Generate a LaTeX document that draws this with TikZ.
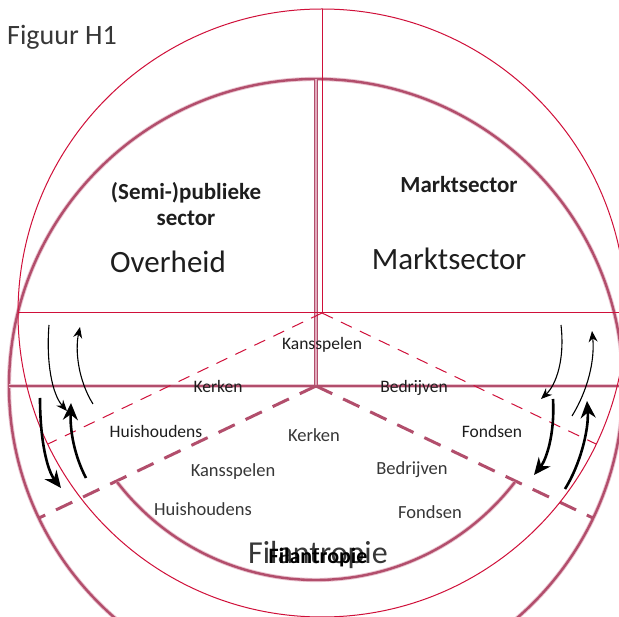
\documentclass[tikz,border=0pt]{standalone}
\usepackage{fontspec}
\setmainfont{Carlito}
\usetikzlibrary{arrows.meta}
\definecolor{thinred}{RGB}{208,16,58}
\definecolor{thickred}{RGB}{178,78,108}
\definecolor{thickglow}{RGB}{234,196,208}
\definecolor{txtdark}{RGB}{30,30,30}
\definecolor{txtgray}{RGB}{55,55,55}
\begin{document}
\begin{tikzpicture}[x=1pt,y=-1pt,
  thinline/.style={draw=thinred, line width=1pt},
  thindash/.style={draw=thinred, line width=1pt, dash pattern=on 12pt off 9pt},
  thickline/.style={draw=thickred, line width=2.4pt, preaction={draw=thickglow, line width=4.2pt}},
  thickdash/.style={draw=thickred, line width=3pt, dash pattern=on 18pt off 12pt},
  thinarrow/.style={draw=black, line width=1.1pt, -{Stealth[length=11pt,width=9pt]}},
  thickarrow/.style={draw=black, line width=2.6pt, -{Stealth[length=17pt,width=15pt]}},
  lbl/.style={inner sep=0pt, anchor=base, text=txtdark, font=\fontsize{17.5}{20}\selectfont},
  lblk/.style={inner sep=0pt, anchor=base, text=txtgray, font=\fontsize{18.5}{21}\selectfont},
  bigl/.style={inner sep=0pt, anchor=base, text=txtdark, font=\fontsize{31}{36}\selectfont},
  boldl/.style={inner sep=0pt, anchor=base, text=txtdark, font=\fontsize{23}{26}\selectfont\bfseries}
]
\useasboundingbox (0,0) rectangle (619,617);
\fill[white] (0,0) rectangle (619,617);
\clip (0,0) rectangle (619,617);

% thick (background) diagram
\coordinate (kc) at (316,386);
\coordinate (kl) at (9,386);
\coordinate (kr) at (623,386);
\coordinate (kt) at (316,79);
\coordinate (kdl) at (39,518);
\coordinate (kdr) at (593,518);
\draw[thickline] (kc) circle[radius=307];
\draw[thickline] (kl) -- (kr);
\draw[draw=thickred, line width=1.4pt, double={rgb,255:red,226;green,170;blue,188}, double distance=1.5pt] (kt) -- (kc);
\draw[thickdash] (kc) -- (kdl);
\draw[thickdash] (kc) -- (kdr);
\draw[thickline] plot[domain=37.6:142.4, samples=80] ({316+251*cos(\x)},{329+251*sin(\x)});

% thin diagram
\coordinate (tc) at (322,313);
\coordinate (tl) at (18,313);
\coordinate (tr) at (626,313);
\coordinate (tt) at (322,9);
\coordinate (tdl) at (48,444);
\coordinate (tdr) at (596,444);
\draw[thinline] (tc) circle[radius=304];
\draw[thinline] (tt) -- (tc);
\draw[thinline] (tl) -- (tr);
\draw[thindash] (tc) -- (tdl);
\draw[thindash] (tc) -- (tdr);

% arrows, thin diagram
\coordinate (a1s) at (49,325);  \coordinate (a1e) at (67,411);
\coordinate (a2s) at (93,404);  \coordinate (a2e) at (80,327);
\coordinate (a3s) at (561,325); \coordinate (a3e) at (541,399);
\coordinate (a4s) at (572,416); \coordinate (a4e) at (592,331);
\draw[thinarrow] (a1s) .. controls (46,362) and (52,394) .. (a1e);
\draw[thinarrow] (a2s) .. controls (78,380) and (75,350) .. (a2e);
\draw[thinarrow] (a3s) .. controls (565,360) and (556,385) .. (a3e);
\draw[thinarrow] (a4s) .. controls (588,390) and (595,360) .. (a4e);

% arrows, thick diagram
\coordinate (b1s) at (40,398);  \coordinate (b1e) at (61,488);
\coordinate (b2s) at (86,478);  \coordinate (b2e) at (71,403);
\coordinate (b3s) at (553,399); \coordinate (b3e) at (534,475);
\coordinate (b4s) at (565,489); \coordinate (b4e) at (587,401);
\draw[thickarrow] (b1s) .. controls (40,440) and (47,470) .. (b1e);
\draw[thickarrow] (b2s) .. controls (74,455) and (70,430) .. (b2e);
\draw[thickarrow] (b3s) .. controls (555,435) and (546,460) .. (b3e);
\draw[thickarrow] (b4s) .. controls (580,465) and (589,430) .. (b4e);

% texts
\node[inner sep=0pt, anchor=base west, text=txtgray, font=\fontsize{28}{32}\selectfont] (fig) at (7,45) {Figuur H1};
\node[boldl] (semi) at (186,200) {(Semi-)publieke};
\node[boldl] (semi2) at (186,226) {sector};
\node[boldl] (mbold) at (459,193) {Marktsector};
\node[bigl] (overheid) at (168,273) {Overheid};
\node[bigl] (markt) at (449,270) {Marktsector};

\node[lbl] (kans1) at (322,350) {Kansspelen};
\node[lbl] (kerk1) at (218,393) {Kerken};
\node[lbl] (bedr1) at (414,393) {Bedrijven};
\node[lbl] (huis1) at (156,438) {Huishoudens};
\node[lbl] (fond1) at (492,438) {Fondsen};

\node[lblk] (kerk2) at (314,442) {Kerken};
\node[lblk] (kans2) at (233,477) {Kansspelen};
\node[lblk] (bedr2) at (412,475) {Bedrijven};
\node[lblk] (huis2) at (203,516) {Huishoudens};
\node[lblk] (fond2) at (430,519) {Fondsen};

\node[inner sep=0pt, anchor=base, text=txtgray, font=\fontsize{32}{36}\selectfont] (fil1) at (318,563) {Filantropie};
\node[inner sep=0pt, anchor=base, text=black, font=\fontsize{22}{26}\selectfont\bfseries] (fil2) at (318,563) {Filantropie};
\end{tikzpicture}
\end{document}
